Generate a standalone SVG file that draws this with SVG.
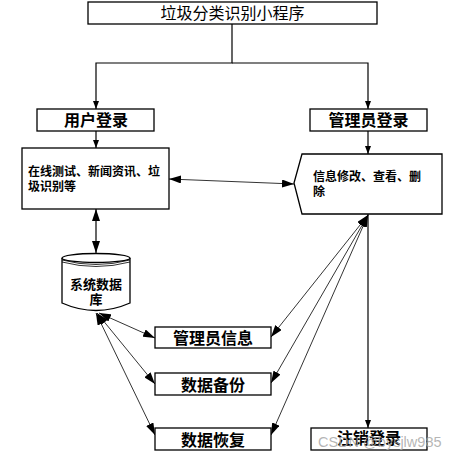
<svg xmlns="http://www.w3.org/2000/svg" width="455" height="461" viewBox="0 0 455 461">
<style>
.box{fill:#fff;stroke:#000;stroke-width:1.3}
.t{font-family:"Liberation Sans","Noto Sans CJK SC",sans-serif;fill:#000}
.big{font-size:16px;font-weight:bold;text-anchor:middle}
.sm{font-size:12px;font-weight:bold}
.ln{fill:none;stroke:#000;stroke-width:1.2}
.th{fill:none;stroke:#000;stroke-width:0.8}
</style>
<defs>
<marker id="a" markerUnits="userSpaceOnUse" viewBox="0 0 8 6" refX="8" refY="3" markerWidth="8" markerHeight="6" orient="auto-start-reverse"><path d="M0,0 L8,3 L0,6 Z" fill="#000"/></marker>
<marker id="b" markerUnits="userSpaceOnUse" viewBox="0 0 12 8" refX="12" refY="4" markerWidth="12" markerHeight="8" orient="auto-start-reverse"><path d="M0,0 L12,4 L0,8 Z" fill="#000"/></marker>
</defs>
<rect width="455" height="461" fill="#fff"/>
<g id="connectors">
<path class="ln" d="M232,24 V63 H96 V109" marker-end="url(#a)"/>
<path class="ln" d="M232,63 H368 V109" marker-end="url(#a)"/>
<path class="ln" d="M96,131 V148" marker-end="url(#a)"/>
<path class="ln" d="M368,131 V154" marker-end="url(#a)"/>
<path class="th" d="M169,179 L294,184" marker-start="url(#b)" marker-end="url(#b)"/>
<path class="ln" d="M96,209 V253" marker-start="url(#b)" marker-end="url(#b)"/>
<path class="th" d="M99,313 L155,338" marker-start="url(#b)" marker-end="url(#b)"/>
<path class="th" d="M97,313 L155,384" marker-start="url(#b)" marker-end="url(#b)"/>
<path class="th" d="M96,313 L155,435" marker-start="url(#b)" marker-end="url(#b)"/>
<path class="th" d="M368,215 L271,337" marker-start="url(#b)" marker-end="url(#b)"/>
<path class="th" d="M368,215 L271,383" marker-start="url(#b)" marker-end="url(#b)"/>
<path class="th" d="M368,215 L271,435" marker-start="url(#b)" marker-end="url(#b)"/>
<path class="ln" d="M368,214 V428" marker-end="url(#a)"/>
</g>
<g id="title">
<rect class="box" x="88" y="2" width="289" height="22"/>
<text class="t" x="232.5" y="19" font-size="16" text-anchor="middle">垃圾分类识别小程序</text>
</g>
<g id="user-login">
<rect class="box" x="37" y="109" width="117" height="22"/>
<text class="t big" x="96" y="126">用户登录</text>
</g>
<g id="admin-login">
<rect class="box" x="310" y="109" width="117" height="22"/>
<text class="t big" x="368.5" y="126">管理员登录</text>
</g>
<g id="user-functions">
<rect class="box" x="22" y="148" width="147" height="61"/>
<text class="t sm" x="28" y="176">在线测试、新闻资讯、垃</text>
<text class="t sm" x="28" y="191">圾识别等</text>
</g>
<g id="admin-functions">
<path class="box" d="M302,154 H442 V214 H302 L294,183 Z"/>
<text class="t sm" x="313" y="181">信息修改、查看、删</text>
<text class="t sm" x="313" y="196">除</text>
</g>
<g id="database">
<path class="box" d="M62,258 V303 Q96,318 130,303 V258"/>
<ellipse class="box" cx="96" cy="258" rx="34" ry="4.5"/>
<path class="th" d="M62,260 Q96,269 130,260"/>
<path class="th" d="M62,262 Q96,271 130,262"/>
<text class="t" x="96" y="289" font-size="13" font-weight="bold" text-anchor="middle">系统数据</text>
<text class="t" x="96" y="304" font-size="13" font-weight="bold" text-anchor="middle">库</text>
</g>
<g id="admin-info">
<rect class="box" x="155" y="327" width="116" height="21"/>
<text class="t big" x="213" y="344">管理员信息</text>
</g>
<g id="data-backup">
<rect class="box" x="155" y="373" width="116" height="22"/>
<text class="t big" x="213" y="391">数据备份</text>
</g>
<g id="data-restore">
<rect class="box" x="155" y="428" width="116" height="22"/>
<text class="t big" x="213" y="446">数据恢复</text>
</g>
<g id="logout">
<rect class="box" x="311" y="428" width="116" height="22"/>
<text class="t big" x="369" y="444">注销登录</text>
</g>
<text x="318" y="447" font-family="Liberation Sans, sans-serif" font-size="14.5" fill="#a8a8a8" fill-opacity="0.85">CSDN @bysjlw985</text>
</svg>
